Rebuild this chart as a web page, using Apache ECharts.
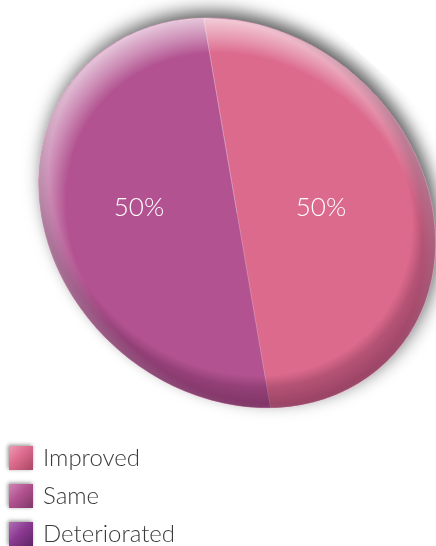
<!DOCTYPE html>
<html>
<head>
<meta charset="utf-8">
<script src="https://cdn.jsdelivr.net/npm/echarts@6/dist/echarts.min.js"></script>
<style>
  html, body { margin: 0; padding: 0; background: #fff; width: 436px; height: 546px; overflow: hidden; }
  #pie { position: absolute; left: 36.5px; top: 13px; width: 400px; height: 400px;
         transform-origin: 50% 50%; transform: rotate(41.7deg) scale(1.172, 1.006); }
  #front { position: absolute; left: 0; top: 0; width: 436px; height: 546px; }
</style>
</head>
<body>
<div id="pie"></div>
<div id="front"></div>
<script>
// ---- data ----
const categories = ['Improved', 'Same', 'Deteriorated'];
const values = [50, 50, 0];
const sliceColors = ['#dc6a8d', '#b25290', '#8c3a92'];
const iconLight = ['#ef9ab5', '#cf86b6', '#b070b4'];
const iconDark = ['#a84866', '#7e3866', '#5e2466'];

const R = 180, C = 200;
const pieData = categories.map((n, i) => ({ name: n, value: values[i], itemStyle: { color: sliceColors[i] } }));

const pie = echarts.init(document.getElementById('pie'), null, { renderer: 'svg', width: 400, height: 400 });
const base = { type: 'pie', center: [C, C], radius: [0, R], silent: true, animation: false,
               label: { show: false }, labelLine: { show: false }, emphasis: { disabled: true } };
pie.setOption({
  backgroundColor: 'transparent',
  series: [
    Object.assign({}, base, {
      name: 'shadow', startAngle: 90,
      data: [{ value: 1, itemStyle: { color: '#c45d8e', shadowBlur: 16, shadowColor: 'rgba(0,0,0,0.65)',
               shadowOffsetX: -1.4, shadowOffsetY: -7.8 } }]
    }),
    Object.assign({}, base, {
      name: 'share', startAngle: 137.1, clockwise: true,
      itemStyle: { borderColor: 'rgba(225,190,215,0.35)', borderWidth: 0.8 },
      data: pieData
    }),
    Object.assign({}, base, {
      name: 'light', startAngle: 90,
      data: [{ value: 1, itemStyle: { color: new echarts.graphic.RadialGradient(C + 15 * 0.907, C + 15 * 0.421, R + 15, [
        { offset: 0, color: 'rgba(255,255,255,0)' },
        { offset: 0.83, color: 'rgba(255,255,255,0)' },
        { offset: 0.9, color: 'rgba(255,255,255,0.3)' },
        { offset: 1, color: 'rgba(255,255,255,0.68)' }
      ], true) } }]
    }),
    Object.assign({}, base, {
      name: 'dark', startAngle: 90,
      data: [{ value: 1, itemStyle: { color: new echarts.graphic.RadialGradient(C - 15 * 0.884, C - 15 * 0.467, R + 15, [
        { offset: 0, color: 'rgba(40,0,30,0)' },
        { offset: 0.845, color: 'rgba(40,0,30,0)' },
        { offset: 0.9, color: 'rgba(40,0,30,0.22)' },
        { offset: 1, color: 'rgba(40,0,30,0.38)' }
      ], true) } }]
    })
  ]
});

const front = echarts.init(document.getElementById('front'), null, { renderer: 'canvas', width: 436, height: 546 });
front.setOption({
  backgroundColor: 'transparent',
  legend: {
    orient: 'vertical', left: 9, top: 446, height: 100, padding: 0,
    itemWidth: 24, itemHeight: 24, itemGap: 14,
    icon: 'rect', selectedMode: false,
    textStyle: { fontFamily: 'Lato', fontWeight: 300, fontSize: 24, color: '#3a3a3a', padding: [0, 0, 0, 5] },
    data: categories.map((n, i) => ({
      name: n,
      itemStyle: {
        color: { type: 'linear', x: 0, y: 0, x2: 1, y2: 1, colorStops: [
          { offset: 0, color: iconLight[i] }, { offset: 0.45, color: sliceColors[i] }, { offset: 1, color: iconDark[i] }] },
        shadowBlur: 4, shadowColor: 'rgba(0,0,0,0.45)', shadowOffsetX: -1, shadowOffsetY: -1
      }
    }))
  },
  series: [{
    type: 'pie', center: [230, 208], radius: [0, 176], startAngle: 90, silent: true, animation: false,
    emphasis: { disabled: true },
    itemStyle: { color: 'rgba(0,0,0,0)' },
    labelLine: { show: false },
    label: {
      show: true, position: 'inside', color: '#ffffff', fontFamily: 'Lato', fontWeight: 300, fontSize: 26,
      formatter: p => (p.value > 0 ? Math.round(p.percent) + '%' : '')
    },
    data: categories.map((n, i) => ({ name: n, value: values[i] }))
  }]
});
</script>
</body>
</html>
